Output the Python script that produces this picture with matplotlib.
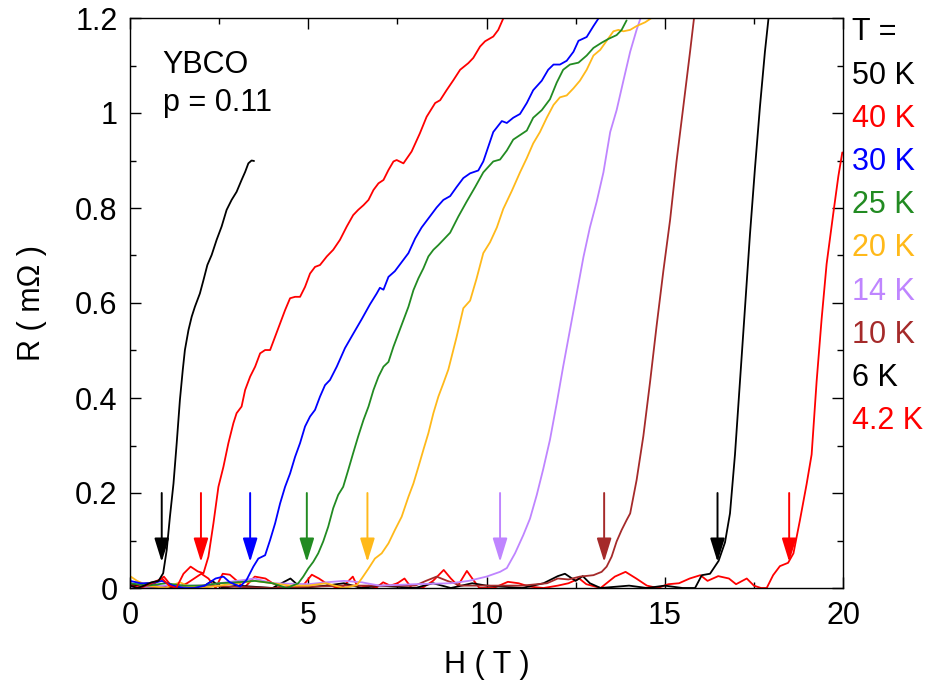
import numpy as np
import matplotlib
matplotlib.use("Agg")
import matplotlib.pyplot as plt
from matplotlib.ticker import MultipleLocator

plt.rcParams['font.family'] = ['Liberation Sans', 'DejaVu Sans']

# ---------------- data (H in tesla, R in mOhm) ----------------
labels = ["50 K", "40 K", "30 K", "25 K", "20 K", "14 K", "10 K", "6 K", "4.2 K"]
colors = ["#000000", "#ff0000", "#0000ff", "#228b22", "#ffb91a",
          "#bf85ff", "#a52a2a", "#000000", "#ff0000"]

H_50 = [0.0, 0.2, 0.4, 0.6, 0.8, 0.93, 1.03, 1.12, 1.22, 1.31, 1.40, 1.48, 1.54, 1.64, 1.73,
        1.82, 1.96, 2.06, 2.17, 2.29, 2.43, 2.57, 2.71, 2.85, 2.99, 3.13, 3.23, 3.32, 3.41, 3.48]
R_50 = [0.005, 0.0, 0.005, 0.012, 0.015, 0.031, 0.080, 0.150, 0.220, 0.305, 0.396, 0.459, 0.501,
        0.543, 0.571, 0.592, 0.620, 0.648, 0.680, 0.701, 0.733, 0.761, 0.796, 0.817, 0.834,
        0.859, 0.876, 0.894, 0.900, 0.899]

H_40 = [0.0, 0.3, 0.6, 0.9, 1.1, 1.3, 1.5, 1.7, 1.9, 2.06, 2.20, 2.34, 2.48, 2.62, 2.76, 2.90,
        2.99, 3.13, 3.23, 3.37, 3.51, 3.65, 3.79, 3.93, 4.07, 4.21, 4.35, 4.49, 4.63, 4.77, 4.91,
        5.05, 5.19, 5.33, 5.52, 5.70, 5.89, 6.08, 6.26, 6.40, 6.55, 6.69, 6.83, 6.97, 7.11, 7.25,
        7.39, 7.48, 7.67, 7.90, 8.13, 8.32, 8.56, 8.70, 8.88, 9.07, 9.26, 9.49, 9.63, 9.82, 9.96,
        10.19, 10.33, 10.47]
R_40 = [0.005, 0.0, 0.01, 0.02, 0.005, 0.0, 0.03, 0.045, 0.035, 0.031, 0.066, 0.136, 0.213,
        0.255, 0.305, 0.347, 0.368, 0.382, 0.417, 0.445, 0.466, 0.494, 0.501, 0.501, 0.529,
        0.557, 0.585, 0.610, 0.613, 0.613, 0.634, 0.662, 0.676, 0.680, 0.698, 0.712, 0.733,
        0.761, 0.785, 0.796, 0.806, 0.817, 0.838, 0.852, 0.859, 0.880, 0.898, 0.901, 0.894,
        0.919, 0.957, 0.992, 1.021, 1.027, 1.048, 1.069, 1.091, 1.105, 1.116, 1.140, 1.151,
        1.161, 1.175, 1.199]

H_30 = [0.0, 0.3, 0.6, 0.9, 1.2, 1.5, 1.8, 2.1, 2.4, 2.62, 2.8, 3.09, 3.27, 3.46, 3.60, 3.79,
        3.93, 4.07, 4.21, 4.35, 4.49, 4.63, 4.77, 4.91, 5.05, 5.19, 5.33, 5.47, 5.61, 5.80, 6.03,
        6.26, 6.50, 6.73, 6.92, 7.01, 7.11, 7.25, 7.43, 7.58, 7.81, 8.00, 8.18, 8.41, 8.60, 8.79,
        8.98, 9.16, 9.35, 9.54, 9.77, 9.91, 10.05, 10.19, 10.43, 10.57, 10.75, 10.94, 11.13,
        11.31, 11.55, 11.73, 11.88, 12.06, 12.25, 12.44, 12.58, 12.81, 13.00, 13.14]
R_30 = [0.015, 0.01, 0.01, 0.015, 0.005, 0.0, 0.0, 0.005, 0.02, 0.024, 0.012, 0.003, 0.017,
        0.045, 0.062, 0.069, 0.101, 0.136, 0.178, 0.213, 0.241, 0.276, 0.305, 0.340, 0.361,
        0.375, 0.403, 0.427, 0.438, 0.466, 0.505, 0.535, 0.566, 0.597, 0.620, 0.632, 0.628,
        0.655, 0.667, 0.682, 0.705, 0.736, 0.759, 0.782, 0.801, 0.817, 0.825, 0.844, 0.863,
        0.873, 0.879, 0.898, 0.929, 0.960, 0.983, 0.979, 0.990, 0.998, 1.021, 1.048, 1.068,
        1.091, 1.102, 1.102, 1.110, 1.129, 1.152, 1.160, 1.183, 1.199]

H_25 = [0.0, 0.5, 1.0, 1.5, 2.0, 2.5, 3.0, 3.5, 4.0, 4.4, 4.72, 4.86, 5.00, 5.14, 5.28, 5.42,
        5.56, 5.70, 5.84, 5.98, 6.12, 6.26, 6.40, 6.55, 6.69, 6.83, 6.97, 7.11, 7.25, 7.39, 7.53,
        7.67, 7.81, 7.95, 8.09, 8.23, 8.37, 8.51, 8.65, 8.79, 8.98, 9.21, 9.44, 9.68, 9.91,
        10.19, 10.38, 10.57, 10.75, 10.99, 11.13, 11.31, 11.55, 11.78, 11.97, 12.15, 12.34,
        12.58, 12.81, 13.00, 13.23, 13.42, 13.65, 13.79, 13.93]
R_25 = [0.01, 0.005, 0.01, 0.005, 0.005, 0.01, 0.012, 0.015, 0.01, 0.0, 0.010, 0.024, 0.041,
        0.055, 0.073, 0.098, 0.129, 0.168, 0.196, 0.213, 0.248, 0.284, 0.319, 0.354, 0.382,
        0.417, 0.445, 0.466, 0.476, 0.508, 0.536, 0.564, 0.592, 0.627, 0.652, 0.673, 0.698,
        0.712, 0.722, 0.733, 0.748, 0.782, 0.813, 0.844, 0.875, 0.898, 0.902, 0.921, 0.944,
        0.956, 0.963, 0.990, 1.006, 1.029, 1.064, 1.091, 1.102, 1.106, 1.121, 1.137, 1.148,
        1.156, 1.164, 1.175, 1.195]

H_20 = [0.0, 0.2, 0.5, 1.0, 1.4, 1.6, 2.0, 2.5, 3.0, 3.5, 4.0, 4.5, 5.0, 5.5, 6.0, 6.36, 6.50,
        6.69, 6.87, 7.06, 7.25, 7.43, 7.62, 7.81, 7.95, 8.09, 8.23, 8.37, 8.51, 8.65, 8.79, 8.93,
        9.16, 9.35, 9.54, 9.72, 9.91, 10.10, 10.29, 10.47, 10.71, 10.94, 11.13, 11.31, 11.50,
        11.69, 11.88, 12.06, 12.25, 12.44, 12.62, 12.81, 13.00, 13.19, 13.37, 13.56, 13.70,
        13.84, 14.03, 14.21, 14.45, 14.63]
R_20 = [0.025, 0.015, 0.005, 0.0, 0.012, 0.005, 0.0, 0.005, 0.01, 0.015, 0.01, 0.005, 0.005,
        0.01, 0.0, 0.006, 0.020, 0.041, 0.062, 0.073, 0.094, 0.122, 0.150, 0.192, 0.220, 0.255,
        0.291, 0.326, 0.368, 0.403, 0.431, 0.460, 0.528, 0.589, 0.605, 0.651, 0.705, 0.728,
        0.759, 0.798, 0.836, 0.875, 0.905, 0.936, 0.960, 0.990, 1.017, 1.033, 1.037, 1.052,
        1.068, 1.091, 1.121, 1.133, 1.152, 1.172, 1.175, 1.172, 1.175, 1.183, 1.191, 1.200]

H_14 = [0.0, 1.0, 2.0, 3.0, 3.5, 4.0, 5.0, 5.5, 6.0, 6.5, 7.0, 8.0, 9.0, 9.5, 10.0, 10.38, 10.57,
        10.80, 11.03, 11.22, 11.41, 11.59, 11.78, 11.97, 12.15, 12.34, 12.53, 12.72, 12.90,
        13.09, 13.28, 13.47, 13.65, 13.84, 14.03, 14.21, 14.35]
R_14 = [0.0, 0.005, 0.005, 0.015, 0.02, 0.01, 0.008, 0.012, 0.015, 0.012, 0.005, 0.008, 0.01,
        0.015, 0.024, 0.034, 0.042, 0.073, 0.111, 0.146, 0.196, 0.250, 0.312, 0.389, 0.466,
        0.543, 0.620, 0.697, 0.759, 0.813, 0.875, 0.960, 1.006, 1.068, 1.129, 1.175, 1.206]

H_10 = [0.0, 2.0, 4.0, 6.0, 8.0, 8.3, 8.6, 8.9, 9.3, 10.0, 11.0, 11.7, 12.0, 12.3, 12.62, 13.0,
        13.23, 13.37, 13.51, 13.65, 13.79, 13.93, 14.03, 14.21, 14.40, 14.59, 14.77, 14.96,
        15.15, 15.33, 15.52, 15.71, 15.82]
R_10 = [0.0, 0.005, 0.0, 0.005, 0.005, 0.015, 0.024, 0.015, 0.005, 0.005, 0.005, 0.01, 0.02,
        0.018, 0.024, 0.027, 0.034, 0.045, 0.066, 0.098, 0.122, 0.143, 0.157, 0.227, 0.320,
        0.435, 0.551, 0.667, 0.775, 0.898, 1.013, 1.129, 1.199]

H_6 = [0.0, 0.5, 1.0, 1.5, 2.0, 2.3, 2.6, 3.0, 4.0, 4.5, 4.8, 5.5, 6.0, 6.5, 7.0, 8.0, 8.5, 9.0,
       9.6, 10.0, 11.0, 11.6, 12.0, 12.2, 12.5, 12.7, 12.9, 13.2, 14.0, 14.5, 15.0, 15.5, 15.85,
       16.04, 16.27, 16.51, 16.69, 16.83, 16.97, 17.11, 17.25, 17.39, 17.53, 17.67, 17.81, 17.91]
R_6 = [0.005, 0.01, 0.0, 0.005, 0.0, 0.015, 0.0, 0.005, 0.0, 0.02, 0.0, 0.005, 0.01, 0.0, 0.005,
       0.0, 0.01, 0.0, 0.01, 0.005, 0.0, 0.01, 0.025, 0.03, 0.015, 0.025, 0.01, 0.0, 0.005, 0.0,
       0.005, 0.0, 0.0, 0.027, 0.030, 0.057, 0.096, 0.157, 0.281, 0.435, 0.589, 0.744, 0.883,
       1.013, 1.129, 1.199]

H_4 = [0.0, 0.2, 0.5, 0.8, 0.95, 1.1, 1.3, 1.6, 2.0, 2.2, 2.4, 2.6, 2.8, 3.0, 3.2, 3.5, 3.8,
       4.0, 4.3, 4.6, 4.8, 5.1, 5.3, 5.5, 5.8, 6.0, 6.25, 6.4, 6.7, 6.9, 7.1, 7.3, 7.5, 7.7, 7.9,
       8.2, 8.5, 8.8, 9.0, 9.2, 9.45, 9.6, 9.8, 10.2, 10.6, 10.9, 11.2, 11.6, 12.0, 12.3, 12.6,
       12.8, 13.2, 13.6, 13.9, 14.2, 14.5, 14.8, 15.1, 15.4, 15.7, 16.0, 16.2, 16.5, 16.8, 17.0,
       17.3, 17.5, 17.7, 17.86, 18.04, 18.23, 18.46, 18.61, 18.79, 18.98, 19.12, 19.26, 19.40,
       19.54, 19.73, 19.87, 19.98]
R_4 = [0.01, 0.005, 0.0, 0.015, 0.024, 0.01, 0.0, 0.01, 0.03, 0.02, 0.0, 0.03, 0.028, 0.015,
       0.0, 0.024, 0.02, 0.01, 0.0, 0.005, 0.0, 0.028, 0.02, 0.01, 0.0, 0.005, 0.024, 0.0, 0.005,
       0.0, 0.012, 0.005, 0.01, 0.02, 0.0, 0.0, 0.015, 0.038, 0.02, 0.005, 0.036, 0.02, 0.0, 0.0,
       0.013, 0.01, 0.003, 0.0, 0.005, 0.01, 0.02, 0.008, 0.0, 0.024, 0.034, 0.02, 0.005, 0.0,
       0.008, 0.01, 0.02, 0.027, 0.015, 0.025, 0.02, 0.008, 0.02, 0.005, 0.0, 0.0, 0.027, 0.046,
       0.053, 0.073, 0.142, 0.219, 0.281, 0.435, 0.566, 0.682, 0.790, 0.867, 0.917]

curves_H = [H_50, H_40, H_30, H_25, H_20, H_14, H_10, H_6, H_4]
curves_R = [R_50, R_40, R_30, R_25, R_20, R_14, R_10, R_6, R_4]

# arrows marking onset fields
arrow_H = [0.89, 1.99, 3.37, 4.96, 6.66, 10.38, 13.30, 16.48, 18.49]
arrow_tip = 0.055
arrow_top = 0.2

# ---------------- figure ----------------
fig = plt.figure(figsize=(9.35, 6.88), dpi=100)
ax = fig.add_axes([130/935, 1-588/688, (843-130)/935, (588-18)/688])

for Hs, Rs, c in zip(curves_H[::-1], curves_R[::-1], colors[::-1]):
    ax.plot(Hs, Rs, color=c, lw=1.3, solid_joinstyle='round', solid_capstyle='round')

for h, c in zip(arrow_H, colors):
    ax.annotate("", xy=(h, arrow_tip), xytext=(h, arrow_top),
                arrowprops=dict(arrowstyle="-|>,head_length=1.45,head_width=0.45",
                                mutation_scale=10, color=c, lw=1.4,
                                shrinkA=0, shrinkB=0))

ax.set_xlim(0, 20)
ax.set_ylim(0, 1.2)
ax.xaxis.set_minor_locator(MultipleLocator(2.5))
ax.yaxis.set_minor_locator(MultipleLocator(0.1))
ax.set_yticks([0, 0.2, 0.4, 0.6, 0.8, 1.0, 1.2])
ax.set_yticklabels(["0", "0.2", "0.4", "0.6", "0.8", "1", "1.2"])
ax.set_xticks([0, 5, 10, 15, 20])
ax.set_xticklabels(["0", "5", "10", "15", "20"])
ax.tick_params(which='both', direction='in', top=True, right=True, labelsize=22, width=1)
ax.tick_params(which='major', length=8)
ax.tick_params(which='minor', length=4)
ax.tick_params(axis='x', pad=9)
ax.tick_params(axis='y', pad=9)
for s in ax.spines.values():
    s.set_linewidth(1.0)

ax.set_xlabel("H ( T )", fontsize=22, labelpad=14)
ax.set_ylabel("R ( mΩ )", fontsize=22, labelpad=20)

ax.text(0.046, 0.918, "YBCO", transform=ax.transAxes, fontsize=22, va='center', ha='left')
ax.text(0.046, 0.851, "p = 0.11", transform=ax.transAxes, fontsize=22, va='center', ha='left')

# right-hand temperature legend
x_leg = 852/935
y0 = 1 - 32.5/688
dy = 43.2/688
fig.text(x_leg, y0, "T =", fontsize=22, color='black', va='center', ha='left')
for i, (lab, c) in enumerate(zip(labels, colors)):
    fig.text(x_leg, y0 - (i + 1) * dy, lab, fontsize=22, color=c, va='center', ha='left')

fig.savefig("out.png", dpi=100)
